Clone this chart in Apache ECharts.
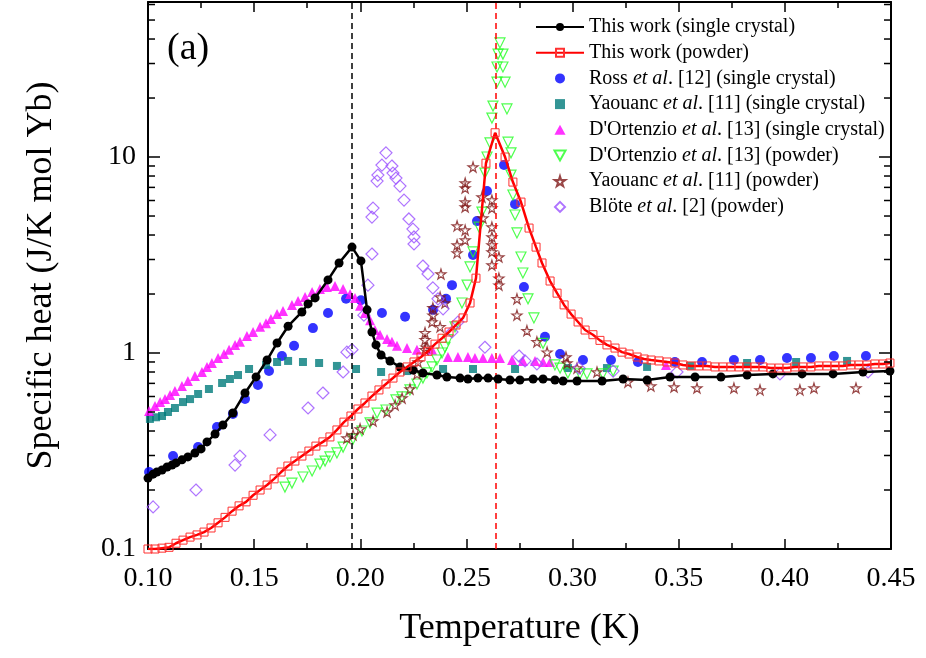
<!DOCTYPE html>
<html>
<head>
<meta charset="utf-8">
<script src="https://cdn.jsdelivr.net/npm/echarts@6/dist/echarts.min.js"></script>
<style>html,body{margin:0;padding:0;background:#fff}#box1{width:926px;height:658px}</style>
</head>
<body>
<div id="box1"></div>
<script>
var dom = document.getElementById("box1");
var myChart = echarts.init(dom);

// [T (K), C (J/K mol Yb)]
var crystalThisWork = [[0.100,0.230],[0.1024,0.241],[0.1042,0.247],[0.1066,0.253],[0.1090,0.262],[0.1113,0.268],[0.1132,0.275],[0.1160,0.285],[0.1188,0.295],[0.1221,0.309],[0.1250,0.324],[0.1278,0.352],[0.1316,0.386],[0.1353,0.429],[0.1400,0.494],[0.1457,0.625],[0.1509,0.755],[0.1561,0.921],[0.1608,1.125],[0.1660,1.37],[0.1725,1.62],[0.1754,1.78],[0.1787,1.91],[0.1848,2.36],[0.1900,2.88],[0.1961,3.47],[0.2003,2.95],[0.2032,1.66],[0.2055,1.28],[0.2074,1.10],[0.2098,0.977],[0.2140,0.91],[0.2187,0.849],[0.2248,0.819],[0.2295,0.791],[0.2361,0.772],[0.2408,0.754],[0.2470,0.745],[0.2507,0.737],[0.2554,0.745],[0.2602,0.745],[0.2649,0.737],[0.2705,0.728],[0.2752,0.728],[0.2814,0.737],[0.2861,0.737],[0.2917,0.728],[0.2955,0.720],[0.3021,0.720],[0.3139,0.720],[0.3238,0.737],[0.3351,0.728],[0.3459,0.754],[0.3577,0.754],[0.3699,0.754],[0.3822,0.772],[0.3944,0.782],[0.4081,0.782],[0.4227,0.782],[0.4368,0.800],[0.4495,0.809]];

var powderThisWork = [[0.1000,0.100],[0.1033,0.100],[0.1066,0.101],[0.1099,0.102],[0.1132,0.107],[0.1165,0.111],[0.1198,0.115],[0.1231,0.118],[0.1264,0.122],[0.1297,0.128],[0.1330,0.136],[0.1363,0.145],[0.1396,0.156],[0.1429,0.166],[0.1462,0.174],[0.1495,0.188],[0.1528,0.200],[0.1561,0.212],[0.1594,0.228],[0.1627,0.247],[0.1659,0.265],[0.1692,0.281],[0.1725,0.298],[0.1758,0.316],[0.1791,0.335],[0.1824,0.352],[0.1857,0.373],[0.1890,0.405],[0.1923,0.444],[0.1956,0.477],[0.1989,0.518],[0.2022,0.556],[0.2055,0.603],[0.2088,0.648],[0.2121,0.695],[0.2154,0.745],[0.2187,0.800],[0.2220,0.849],[0.2253,0.900],[0.2286,0.954],[0.2319,1.02],[0.2352,1.11],[0.2385,1.19],[0.2418,1.28],[0.2451,1.39],[0.2484,1.51],[0.2517,1.80],[0.2545,2.41],[0.2592,9.3],[0.2635,13.3],[0.2682,10.0],[0.2719,7.45],[0.2757,5.89],[0.2795,4.34],[0.2828,3.47],[0.2856,2.88],[0.2894,2.33],[0.2927,2.02],[0.2960,1.76],[0.2993,1.58],[0.3026,1.44],[0.3059,1.31],[0.3096,1.24],[0.3129,1.16],[0.3162,1.10],[0.3200,1.06],[0.3233,1.01],[0.3266,0.988],[0.3304,0.954],[0.3337,0.932],[0.3370,0.921],[0.3407,0.911],[0.3445,0.900],[0.3482,0.889],[0.3520,0.869],[0.3558,0.859],[0.3595,0.859],[0.3633,0.859],[0.3671,0.849],[0.3708,0.849],[0.3746,0.849],[0.3784,0.849],[0.3821,0.849],[0.3859,0.849],[0.3897,0.849],[0.3934,0.838],[0.3972,0.838],[0.4010,0.838],[0.4047,0.849],[0.4085,0.849],[0.4123,0.849],[0.4160,0.859],[0.4198,0.859],[0.4236,0.859],[0.4273,0.859],[0.4311,0.869],[0.4349,0.869],[0.4386,0.869],[0.4424,0.879],[0.4462,0.879],[0.4495,0.889]];

var rossCrystal = [[0.1005,0.247],[0.1118,0.298],[0.1236,0.331],[0.1325,0.419],[0.1400,0.489],[0.1457,0.582],[0.1518,0.687],[0.1570,0.810],[0.1631,0.966],[0.1688,1.09],[0.1777,1.34],[0.1848,1.60],[0.1933,1.89],[0.2003,1.86],[0.2102,1.60],[0.2211,1.53],[0.2343,1.66],[0.2404,1.89],[0.2432,2.22],[0.2531,3.16],[0.2550,4.71],[0.2597,6.71],[0.2677,9.1],[0.2729,5.75],[0.2771,2.17],[0.2870,1.21],[0.2941,0.988],[0.3049,0.921],[0.3181,0.921],[0.3308,0.900],[0.3482,0.900],[0.3610,0.900],[0.3760,0.921],[0.3883,0.921],[0.4010,0.943],[0.4123,0.943],[0.4231,0.965],[0.4382,0.965]];

var yaouancCrystal = [[0.1009,0.461],[0.1038,0.470],[0.1066,0.477],[0.1094,0.500],[0.1127,0.524],[0.1165,0.562],[0.1198,0.582],[0.1236,0.618],[0.1287,0.655],[0.1349,0.703],[0.1386,0.737],[0.1424,0.772],[0.1476,0.829],[0.1556,0.869],[0.1608,0.900],[0.1660,0.911],[0.1730,0.900],[0.1806,0.889],[0.1890,0.859],[0.1980,0.829],[0.2098,0.800],[0.2220,0.809],[0.2390,0.829],[0.2531,0.829],[0.2729,0.829],[0.2978,0.838],[0.3162,0.838],[0.3351,0.849],[0.3553,0.859],[0.3822,0.889],[0.4053,0.900],[0.4293,0.911]];

var ortenzioCrystal = [[0.1005,0.506],[0.1033,0.537],[0.1057,0.562],[0.1080,0.582],[0.1104,0.611],[0.1127,0.640],[0.1160,0.679],[0.1188,0.720],[0.1221,0.763],[0.1254,0.800],[0.1278,0.849],[0.1301,0.889],[0.1330,0.943],[0.1358,0.988],[0.1382,1.04],[0.1410,1.10],[0.1433,1.14],[0.1466,1.22],[0.1495,1.28],[0.1528,1.36],[0.1556,1.42],[0.1579,1.49],[0.1608,1.58],[0.1636,1.64],[0.1678,1.76],[0.1707,1.84],[0.1740,1.93],[0.1773,2.05],[0.1810,2.12],[0.1843,2.17],[0.1881,2.20],[0.1919,2.12],[0.1952,2.00],[0.1975,1.91],[0.1999,1.74],[0.2022,1.60],[0.2046,1.47],[0.2069,1.31],[0.2093,1.24],[0.2126,1.18],[0.2149,1.14],[0.2173,1.09],[0.2220,1.06],[0.2267,1.04],[0.2338,1.04],[0.2413,0.954],[0.2460,0.954],[0.2507,0.954],[0.2540,0.943],[0.2578,0.943],[0.2620,0.943],[0.2658,0.943],[0.2715,0.921],[0.2766,0.911],[0.2823,0.911],[0.2861,0.900],[0.2894,0.900],[0.3440,0.869]];

var ortenzioPowder = [[0.1645,0.207],[0.1678,0.217],[0.1730,0.233],[0.1773,0.250],[0.1810,0.271],[0.1834,0.281],[0.1857,0.295],[0.1890,0.309],[0.1919,0.331],[0.1966,0.364],[0.2008,0.400],[0.2046,0.440],[0.2079,0.494],[0.2121,0.512],[0.2168,0.576],[0.2196,0.597],[0.2234,0.648],[0.2267,0.695],[0.2295,0.745],[0.2314,0.791],[0.2338,0.849],[0.2361,0.921],[0.2385,1.00],[0.2399,1.07],[0.2413,1.17],[0.2446,1.36],[0.2479,1.80],[0.2503,2.22],[0.2517,2.75],[0.2531,3.28],[0.2559,4.39],[0.2573,5.24],[0.2587,8.28],[0.2597,10.0],[0.2611,11.8],[0.2620,15.8],[0.2625,18.2],[0.2644,24.1],[0.2644,28.8],[0.2649,33.5],[0.2658,38.2],[0.2672,33.5],[0.2672,28.8],[0.2682,24.1],[0.2691,17.6],[0.2696,11.9],[0.2710,10.5],[0.2710,8.09],[0.2719,6.40],[0.2729,5.06],[0.2738,4.10],[0.2757,3.09],[0.2766,2.56],[0.2790,1.89],[0.2818,1.51],[0.2861,1.12],[0.2917,0.869],[0.2941,0.838],[0.2978,0.791],[0.3035,0.782],[0.3068,0.782],[0.3143,0.782],[0.3191,0.809]];

var yaouancPowder = [[0.1937,0.368],[0.1966,0.382],[0.1999,0.410],[0.2060,0.450],[0.2126,0.500],[0.2164,0.543],[0.2197,0.589],[0.2234,0.655],[0.2267,0.782],[0.2272,0.900],[0.2305,1.04],[0.2310,1.07],[0.2305,1.17],[0.2305,1.27],[0.2338,1.44],[0.2342,1.56],[0.2342,1.70],[0.2376,1.36],[0.2376,1.93],[0.2399,1.80],[0.2380,2.53],[0.2456,3.24],[0.2456,3.56],[0.2456,4.45],[0.2494,3.77],[0.2494,4.24],[0.2494,5.56],[0.2494,5.89],[0.2494,6.95],[0.2494,7.37],[0.2531,8.89],[0.2573,6.25],[0.2578,4.88],[0.2620,6.03],[0.2620,5.49],[0.2620,4.39],[0.2620,3.91],[0.2620,3.56],[0.2620,3.28],[0.2620,2.81],[0.2653,3.09],[0.2653,2.41],[0.2653,2.22],[0.2738,1.89],[0.2738,1.56],[0.2785,1.30],[0.2832,1.14],[0.2880,1.01],[0.2969,0.954],[0.2974,0.889],[0.3021,0.838],[0.3115,0.800],[0.3261,0.711],[0.3369,0.679],[0.3478,0.671],[0.3586,0.663],[0.3760,0.663],[0.3883,0.648],[0.4071,0.648],[0.4137,0.663],[0.4335,0.663]];

var blotePowder = [[0.1024,0.164],[0.1226,0.200],[0.1410,0.268],[0.1433,0.298],[0.1575,0.382],[0.1754,0.524],[0.1824,0.625],[0.1919,0.800],[0.1937,1.01],[0.1961,1.04],[0.2017,1.56],[0.2036,2.22],[0.2055,3.20],[0.2055,4.94],[0.2060,5.49],[0.2079,7.54],[0.2083,8.09],[0.2102,9.10],[0.2121,10.5],[0.2149,9.00],[0.2154,8.28],[0.2168,7.81],[0.2187,7.11],[0.2206,6.03],[0.2229,4.83],[0.2248,4.29],[0.2253,3.91],[0.2253,3.60],[0.2295,2.78],[0.2319,2.53],[0.2342,2.15],[0.2366,1.89],[0.2390,1.68],[0.2432,1.28],[0.2460,1.44],[0.2587,1.07],[0.2748,0.965],[0.2776,0.911],[0.2832,0.879],[0.3030,0.838],[0.3191,0.809],[0.3492,0.800],[0.3977,0.782],[0.4392,0.800]];

var transitionTemps = [0.196, 0.264];
var yMinorTicks = [0.2,0.3,0.4,0.5,0.6,0.7,0.8,0.9,2,3,4,5,6,7,8,9,20,30,40,50,60];

var xMin = 0.10, xMax = 0.45, yMin = 0.1, yMax = 61.8;
var serif = 'Liberation Serif';
var starPath = 'path://M50,0 L61,35 L98,35 L68,57 L79,91 L50,70 L21,91 L32,57 L2,35 L39,35 Z';
// legend icons as paths so they keep their aspect
var rectIcon = 'path://M0,0 L10,0 L10,10 L0,10 Z';
var triIcon = 'path://M5,0 L10,9 L0,9 Z';
var triDownIcon = 'path://M0,0 L10,0 L5,9 Z';
var diamondIcon = 'path://M5,0 L10,5 L5,10 L0,5 Z';

var names = [
    'This work (single crystal)',
    'This work (powder)',
    'Ross et al. [12] (single crystal)',
    'Yaouanc et al. [11] (single crystal)',
    "D'Ortenzio et al. [13] (single crystal)",
    "D'Ortenzio et al. [13] (powder)",
    'Yaouanc et al. [11] (powder)',
    'Blöte et al. [2] (powder)'
];

function scatter(name, data, symbol, size, color, open, rotate) {
    return {
        name: name,
        type: 'scatter',
        data: data,
        symbol: symbol,
        symbolSize: size,
        symbolRotate: rotate || 0,
        z: 3,
        itemStyle: open ? {
            color: 'rgba(255,255,255,0)',
            borderColor: color,
            borderWidth: 1.2
        } : {
            color: color
        }
    };
}

function dashed(t) {
    return [{ coord: [t, yMin] }, { coord: [t, yMax] }];
}

option = {
    backgroundColor: '#fff',
    animation: false,
    grid: {
        left: 148,
        right: 35,
        top: 2,
        bottom: 109,
        containLabel: false
    },
    legend: {
        orient: 'vertical',
        left: 535,
        top: 16,
        padding: 0,
        itemGap: 3.7,
        itemWidth: 48,
        itemHeight: 10,
        symbolRotate: 0,
        data: [
            { name: names[0] },
            { name: names[1] },
            { name: names[2] },
            { name: names[3], icon: rectIcon },
            { name: names[4], icon: triIcon },
            { name: names[5], icon: triDownIcon },
            { name: names[6] },
            { name: names[7], icon: diamondIcon }
        ],
        formatter: function(name) {
            return name.replace('et al.', '{i|et al}.');
        },
        textStyle: {
            fontFamily: serif,
            fontSize: 20,
            lineHeight: 22,
            color: '#000',
            rich: {
                i: {
                    fontFamily: serif,
                    fontStyle: 'italic',
                    fontSize: 20,
                    lineHeight: 22,
                    color: '#000'
                }
            }
        }
    },
    xAxis: [{
        type: 'value',
        min: xMin,
        max: xMax,
        interval: 0.05,
        name: 'Temperature (K)',
        nameLocation: 'middle',
        nameGap: 62,
        nameTextStyle: { fontFamily: serif, fontSize: 36, color: '#000' },
        axisLine: { lineStyle: { color: '#000', width: 2 } },
        axisTick: { inside: true, length: 10, lineStyle: { color: '#000', width: 1.5 } },
        minorTick: { show: true, splitNumber: 2, length: 6, lineStyle: { color: '#000', width: 1.5 } },
        axisLabel: {
            margin: 16,
            fontFamily: serif,
            fontSize: 28,
            color: '#000',
            formatter: function(v) { return v.toFixed(2); }
        },
        splitLine: { show: false }
    }, {
        type: 'value',
        position: 'top',
        min: xMin,
        max: xMax,
        interval: 0.05,
        axisLine: { lineStyle: { color: '#000', width: 2 } },
        axisTick: { inside: true, length: 10, lineStyle: { color: '#000', width: 1.5 } },
        minorTick: { show: true, splitNumber: 2, length: 6, lineStyle: { color: '#000', width: 1.5 } },
        axisLabel: { show: false },
        splitLine: { show: false }
    }],
    yAxis: [{
        type: 'log',
        logBase: 10,
        min: yMin,
        max: yMax,
        name: 'Specific heat (J/K mol Yb)',
        nameLocation: 'middle',
        nameGap: 88,
        nameTextStyle: { fontFamily: serif, fontSize: 36, color: '#000' },
        axisLine: { lineStyle: { color: '#000', width: 2 } },
        axisTick: { inside: true, length: 12, lineStyle: { color: '#000', width: 1.5 } },
        axisLabel: {
            margin: 12,
            fontFamily: serif,
            fontSize: 28,
            color: '#000',
            showMaxLabel: false
        },
        splitLine: { show: false }
    }, {
        type: 'log',
        logBase: 10,
        position: 'right',
        min: yMin,
        max: yMax,
        axisLine: { lineStyle: { color: '#000', width: 2 } },
        axisTick: { inside: true, length: 12, lineStyle: { color: '#000', width: 1.5 } },
        axisLabel: { show: false },
        splitLine: { show: false }
    }],
    graphic: [{
        type: 'text',
        left: 167,
        top: 30,
        style: { text: '(a)', font: '38px "Liberation Serif"', fill: '#000' }
    }],
    series: [
        scatter(names[2], rossCrystal, 'circle', 10, '#0000ff', false),
        scatter(names[3], yaouancCrystal, 'rect', 8, '#007b7b', false),
        scatter(names[4], ortenzioCrystal, 'triangle', 10, '#ff00ff', false),
        scatter(names[5], ortenzioPowder, 'triangle', 10, '#22ff22', true, 180),
        scatter(names[6], yaouancPowder, starPath, 10, '#801818', true),
        scatter(names[7], blotePowder, 'diamond', 12, '#9a50ff', true),
        {
            name: names[0],
            type: 'line',
            data: crystalThisWork,
            symbol: 'circle',
            symbolSize: 9,
            z: 5,
            lineStyle: { color: '#000', width: 2.5 },
            itemStyle: { color: '#000' },
            markLine: {
                silent: true,
                symbol: 'none',
                label: { show: false },
                lineStyle: { color: '#000', width: 1.5, type: [6, 4] },
                data: [dashed(transitionTemps[0])]
            }
        },
        {
            name: names[1],
            type: 'line',
            data: powderThisWork,
            symbol: 'rect',
            symbolSize: 8,
            z: 6,
            lineStyle: { color: '#ff0000', width: 2.5 },
            itemStyle: { color: 'rgba(255,255,255,0)', borderColor: '#ff3030', borderWidth: 1 },
            markLine: {
                silent: true,
                symbol: 'none',
                label: { show: false },
                lineStyle: { color: '#ff0000', width: 1.5, type: [6, 4] },
                data: [dashed(transitionTemps[1])]
            }
        },
        {
            type: 'custom',
            silent: true,
            z: 10,
            data: yMinorTicks.map(function(v) { return [xMin, v]; }),
            renderItem: function(params, api) {
                var l = api.coord([xMin, api.value(1)]);
                var r = api.coord([xMax, api.value(1)]);
                return {
                    type: 'group',
                    children: [{
                        type: 'line',
                        shape: { x1: l[0], y1: l[1], x2: l[0] + 7, y2: l[1] },
                        style: { stroke: '#000', lineWidth: 1.5 }
                    }, {
                        type: 'line',
                        shape: { x1: r[0], y1: r[1], x2: r[0] - 7, y2: r[1] },
                        style: { stroke: '#000', lineWidth: 1.5 }
                    }]
                };
            }
        }
    ]
};
if (option && typeof option === "object") {
    myChart.setOption(option, true);
}
</script>
</body>
</html>
